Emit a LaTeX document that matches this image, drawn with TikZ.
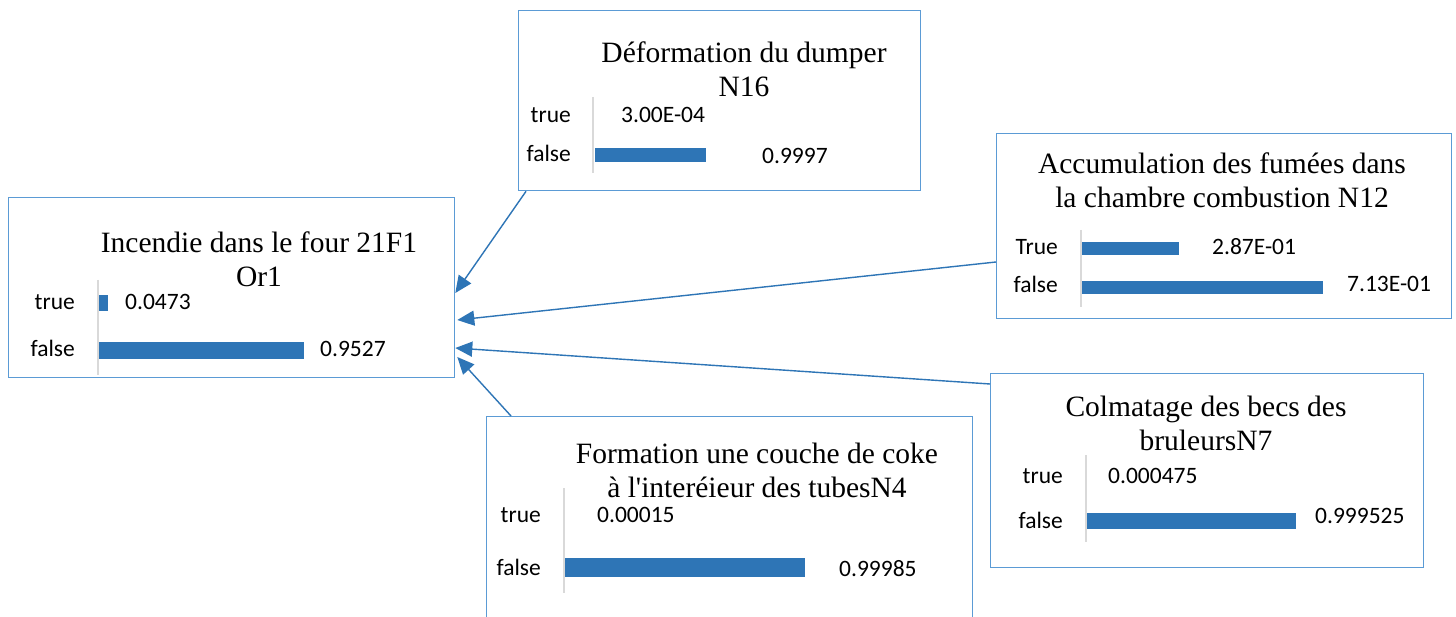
\documentclass[tikz,border=0pt]{standalone}
\usepackage{fontspec}
\setmainfont{Liberation Serif}
\newfontfamily\lblfont{Carlito}
\usetikzlibrary{arrows.meta,calc}
\definecolor{boxline}{HTML}{5B9BD5}
\definecolor{barblue}{HTML}{2E75B6}
\definecolor{axisgray}{HTML}{D9D9D9}
\begin{document}
\begin{tikzpicture}[x=1pt,y=-1pt,
  panel/.style={draw=boxline, line width=1.3pt, fill=white, inner sep=0pt, anchor=north west},
  % base anchor of a two-line title sits on its second line
  title/.style={font=\fontsize{29.5}{34}\selectfont, align=center, anchor=base, inner sep=0pt},
  lbl/.style={font=\lblfont\fontsize{23.5}{26}\selectfont, inner sep=0pt},
  state/.style={lbl, anchor=base east},
  val/.style={lbl, anchor=base west},
  bar/.style={fill=barblue},
  axisline/.style={draw=axisgray, line width=2pt},
  link/.style={draw=barblue, line width=1.4pt, -{Triangle[length=17pt,width=15pt]}}
]
\clip (0,0) rectangle (1456,617);
\fill[white] (0,0) rectangle (1456,617);

% ---- Or1 : Incendie dans le four 21F1
\node[panel, minimum width=446pt, minimum height=180pt] (or1) at (8,197) {};
\node[title] (or1t) at (259,287) {Incendie dans le four 21F1\\Or1};
\draw[axisline] (98,280) -- (98,375);
\node[state] (or1a) at (75,310) {true};
\node[state] (or1b) at (75,357) {false};
\fill[bar] (99,295) rectangle (108,311);
\fill[bar] (99,342) rectangle (304,359);
\node[val] (or1c) at (125,310) {0.0473};
\node[val] (or1d) at (320,357) {0.9527};

% ---- N16 : Deformation du dumper
\node[panel, minimum width=402pt, minimum height=180pt] (n16) at (518,10) {};
\node[title] (n16t) at (744,97) {Déformation du dumper\\N16};
\draw[axisline] (593,97) -- (593,173);
\node[state] (n16a) at (571,123) {true};
\node[state] (n16b) at (571,162) {false};
\fill[bar] (595,148) rectangle (706,162);
\node[val] (n16c) at (621,123) {3.00E-04};
\node[val] (n16d) at (762,164) {0.9997};

% ---- N12 : Accumulation des fumees
\node[panel, minimum width=455pt, minimum height=185pt] (n12) at (996,133) {};
\node[title] (n12t) at (1222,208) {Accumulation des fumées dans\\la chambre combustion N12};
\draw[axisline] (1081,230) -- (1081,307);
\node[state] (n12a) at (1058,255) {True};
\node[state] (n12b) at (1058,293) {false};
\fill[bar] (1082,242) rectangle (1179,255);
\fill[bar] (1082,281) rectangle (1323,294);
\node[val] (n12c) at (1212,255) {2.87E-01};
\node[val] (n12d) at (1347,292) {7.13E-01};

% ---- N4 : Formation une couche de coke
\node[panel, minimum width=486pt, minimum height=240pt] (n4) at (486,416) {};
\node[title] (n4t) at (757,497) {Formation une couche de coke\\à l\textquotesingle interéieur des tubesN4};
\draw[axisline] (564,488) -- (564,593);
\node[state] (n4a) at (541,522) {true};
\node[state] (n4b) at (541,575) {false};
\fill[bar] (565,558) rectangle (805,577);
\node[val] (n4c) at (597,522) {0.00015};
\node[val] (n4d) at (839,576) {0.99985};

% ---- N7 : Colmatage des becs
\node[panel, minimum width=433pt, minimum height=194pt] (n7) at (990,373) {};
\node[title] (n7t) at (1206,450) {Colmatage des becs des\\bruleursN7};
\draw[axisline] (1086,455) -- (1086,542);
\node[state] (n7a) at (1063,483) {true};
\node[state] (n7b) at (1063,528) {false};
\fill[bar] (1087,513) rectangle (1296,529);
\node[val] (n7c) at (1108,483) {0.000475};
\node[val] (n7d) at (1315,523) {0.999525};

% ---- influences towards Or1
\draw[link] ($(n16.south west)+(8,0)$) -- ($(or1.north east)+(0,96)$);
\draw[link] ($(n12.north west)+(0,129)$) -- ($(or1.north east)+(2,123)$);
\draw[link] ($(n7.north west)+(0,11)$) -- ($(or1.north east)+(0,151)$);
\draw[link] ($(n4.north west)+(25,0)$) -- ($(or1.north east)+(2,160)$);
\end{tikzpicture}
\end{document}
